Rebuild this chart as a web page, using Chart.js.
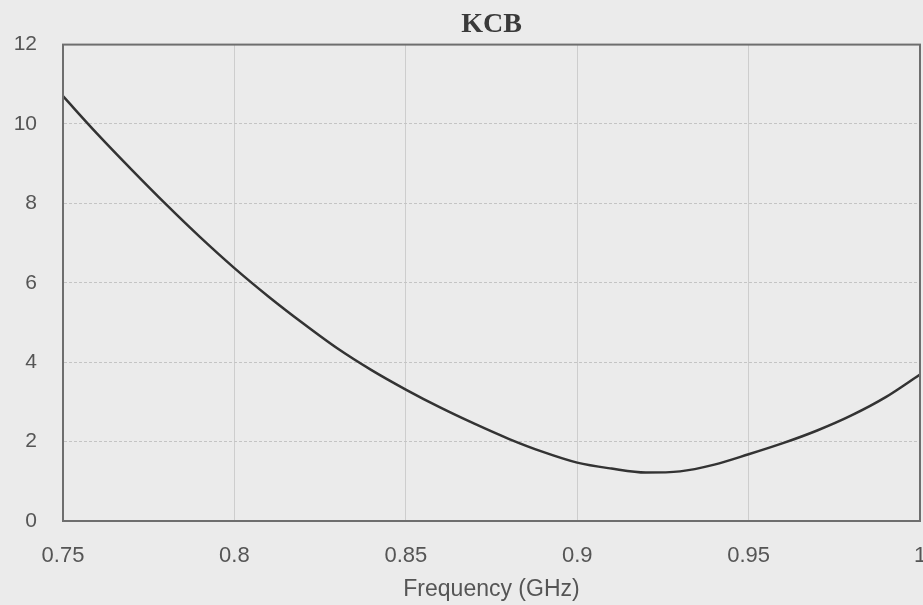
<!DOCTYPE html>
<html>
<head>
<meta charset="utf-8">
<script src="https://cdn.jsdelivr.net/npm/chart.js@4"></script>
<style>
  html, body { margin: 0; padding: 0; background: #ebebeb; }
  #wrap { width: 923px; height: 605px; }
</style>
</head>
<body>
<div id="wrap"><canvas id="kcb"></canvas></div>
<script>
// values
var freq = [0.75, 0.76, 0.77, 0.78, 0.79, 0.80, 0.81, 0.82, 0.83, 0.84,
            0.85, 0.86, 0.87, 0.88, 0.89, 0.90, 0.91, 0.92, 0.93, 0.94,
            0.95, 0.96, 0.97, 0.98, 0.99, 1.00];
var kcb = [10.7, 9.75, 8.85, 7.98, 7.15, 6.37, 5.65, 4.98, 4.35, 3.8,
           3.31, 2.86, 2.45, 2.07, 1.74, 1.47, 1.32, 1.22, 1.25, 1.42,
           1.68, 1.96, 2.28, 2.66, 3.12, 3.69];
var xTicks = [0.75, 0.8, 0.85, 0.9, 0.95, 1];
var yTicks = [0, 2, 4, 6, 8, 10, 12];

var points = freq.map(function (f, i) { return { x: f, y: kcb[i] }; });

// top and right border of the plot box
var frame = {
    id: 'frame',
    afterDraw: function (chart) {
        var a = chart.chartArea, ctx = chart.ctx;
        ctx.save();
        ctx.setLineDash([]);
        ctx.strokeStyle = '#6e6e6e';
        ctx.lineWidth = 2;
        ctx.strokeRect(a.left, a.top, a.right - a.left, a.bottom - a.top);
        ctx.restore();
    }
};

// fixed axis sizes, label overhang does not shrink the plot box
function fitX(s) {
    s.paddingLeft = 0; s.paddingRight = 0;
    s.height = 82;
}
function fitY(s) {
    s.paddingTop = 0; s.paddingBottom = 0;
    s.width = 48;
}

var tickFont = { family: 'Liberation Sans, Arial, sans-serif', size: 21 };

new Chart('kcb', {
    type: 'line',
    data: {
        datasets: [{
            label: 'KCB',
            data: points,
            borderColor: '#333333',
            borderWidth: 2.5,
            pointRadius: 0,
            cubicInterpolationMode: 'monotone',
            fill: false
        }]
    },
    options: {
        responsive: true,
        maintainAspectRatio: false,
        animation: false,
        layout: { padding: { left: 15, right: 3, top: 0, bottom: 2 } },
        plugins: {
            legend: { display: false },
            tooltip: { enabled: false },
            title: {
                display: true,
                text: 'KCB',
                fullSize: false,
                color: '#3a3a3a',
                font: { family: 'Liberation Serif, Times New Roman, serif', size: 28, weight: 'bold' },
                padding: { top: 8, bottom: 3 }
            }
        },
        scales: {
            x: {
                type: 'linear',
                min: xTicks[0],
                max: xTicks[xTicks.length - 1],
                afterBuildTicks: function (s) { s.ticks = xTicks.map(function (v) { return { value: v }; }); },
                afterFit: fitX,
                ticks: {
                    color: '#555',
                    font: { family: 'Liberation Sans, Arial, sans-serif', size: 22 },
                    padding: 22,
                    maxRotation: 0,
                    callback: function (v) { return String(+v.toFixed(2)); }
                },
                grid: { color: '#cdcdcd', drawTicks: false },
                border: { color: '#6e6e6e', width: 2 },
                title: {
                    display: true,
                    text: 'Frequency (GHz)',
                    color: '#555',
                    font: { family: 'Liberation Sans, Arial, sans-serif', size: 23 },
                    padding: { top: 7, bottom: 0 }
                }
            },
            y: {
                min: yTicks[0],
                max: yTicks[yTicks.length - 1],
                afterBuildTicks: function (s) { s.ticks = yTicks.map(function (v) { return { value: v }; }); },
                afterFit: fitY,
                ticks: { color: '#555', font: tickFont, padding: 26 },
                grid: { color: '#c4c4c4', drawTicks: false },
                border: { color: '#6e6e6e', width: 2, dash: [3, 2] }
            }
        }
    },
    plugins: [frame]
});
</script>
</body>
</html>
